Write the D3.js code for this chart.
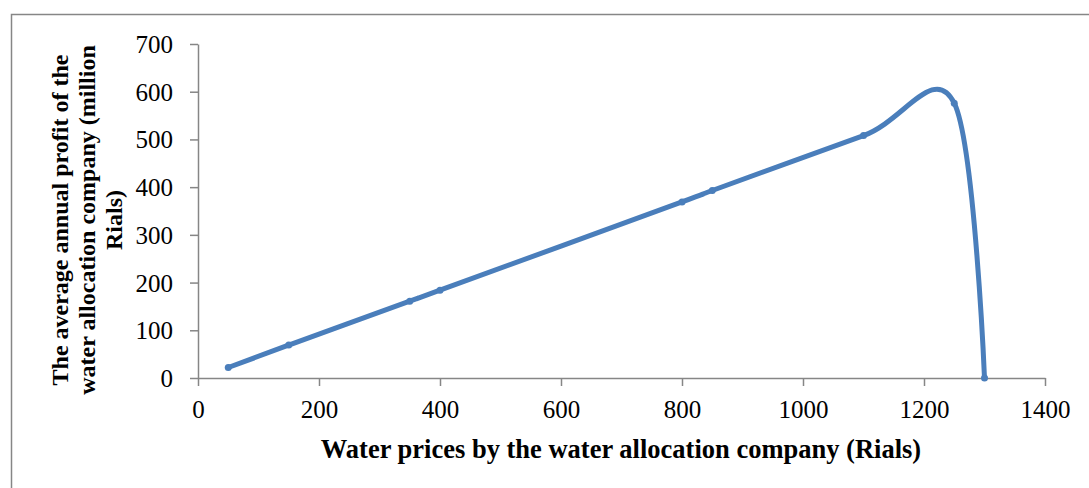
<!DOCTYPE html>
<html><head><meta charset="utf-8">
<script src="https://cdn.jsdelivr.net/npm/d3@7"></script>
<style>body{margin:0;background:#fff}svg{display:block}</style>
</head><body>
<svg id="c" width="1089" height="488"></svg>
<script>
const prices = [50, 150, 350, 400, 800, 850, 1100, 1250, 1300];
const profits = [22, 69, 161, 184, 369, 393, 508, 576, 0];
const xTicks = [0, 200, 400, 600, 800, 1000, 1200, 1400];
const yTicks = [0, 100, 200, 300, 400, 500, 600, 700];
const xTitle = "Water prices by the water allocation company (Rials)";
const yTitleLines = ["The average annual profit of the", "water allocation company (million", "Rials)"];

const svg = d3.select("#c");
const font = "'Liberation Serif','Times New Roman',serif";
const axisColor = "#868686";
const lineColor = "#4a7ebb";

// outer frame
svg.append("rect").attr("x", 11.5).attr("y", 14.5).attr("width", 1100).attr("height", 500)
  .attr("fill", "none").attr("stroke", axisColor).attr("stroke-width", 1.5);

const x = d3.scaleLinear().domain([0, 1400]).range([198, 1045]);
const y = d3.scaleLinear().domain([0, 700]).range([378, 44]);

const gx = svg.append("g").attr("transform", "translate(0,378)")
  .call(d3.axisBottom(x).tickValues(xTicks).tickSize(8).tickSizeOuter(0).tickPadding(14).tickFormat(d3.format("d")));
const gy = svg.append("g").attr("transform", "translate(198,0)")
  .call(d3.axisLeft(y).tickValues(yTicks).tickSize(8).tickSizeOuter(0).tickPadding(17).tickFormat(d3.format("d")));
[gx, gy].forEach(g => {
  g.select(".domain").attr("stroke", axisColor).attr("stroke-width", 1.5);
  g.selectAll(".tick line").attr("stroke", axisColor).attr("stroke-width", 1.5);
  g.selectAll(".tick text").attr("fill", "#000").style("font-family", font).style("font-size", "25px");
});
gy.selectAll(".tick text").attr("dy", "0.34em");

const pts = prices.map((p, i) => [p, profits[i]]);
const line = d3.line().x(d => x(d[0])).y(d => y(d[1])).curve(d3.curveCardinal.tension(0));
svg.append("path").datum(pts).attr("d", line).attr("fill", "none")
  .attr("stroke", lineColor).attr("stroke-width", 5).attr("stroke-linecap", "round").attr("stroke-linejoin", "round");
svg.selectAll("circle.m").data(pts).enter().append("circle").attr("class", "m")
  .attr("cx", d => x(d[0])).attr("cy", d => y(d[1])).attr("r", 3.5).attr("fill", lineColor);

svg.append("text").attr("x", 621).attr("y", 458).attr("text-anchor", "middle")
  .style("font-family", font).style("font-size", "26.5px").style("font-weight", "bold").text(xTitle);

const yt = svg.append("text").attr("transform", "translate(68,220) rotate(-90)").attr("text-anchor", "middle")
  .style("font-family", font).style("font-size", "24px").style("font-weight", "bold");
yTitleLines.forEach((t, i) => yt.append("tspan").attr("x", 0).attr("dy", i === 0 ? 0 : 27).text(t));
</script>
</body></html>
